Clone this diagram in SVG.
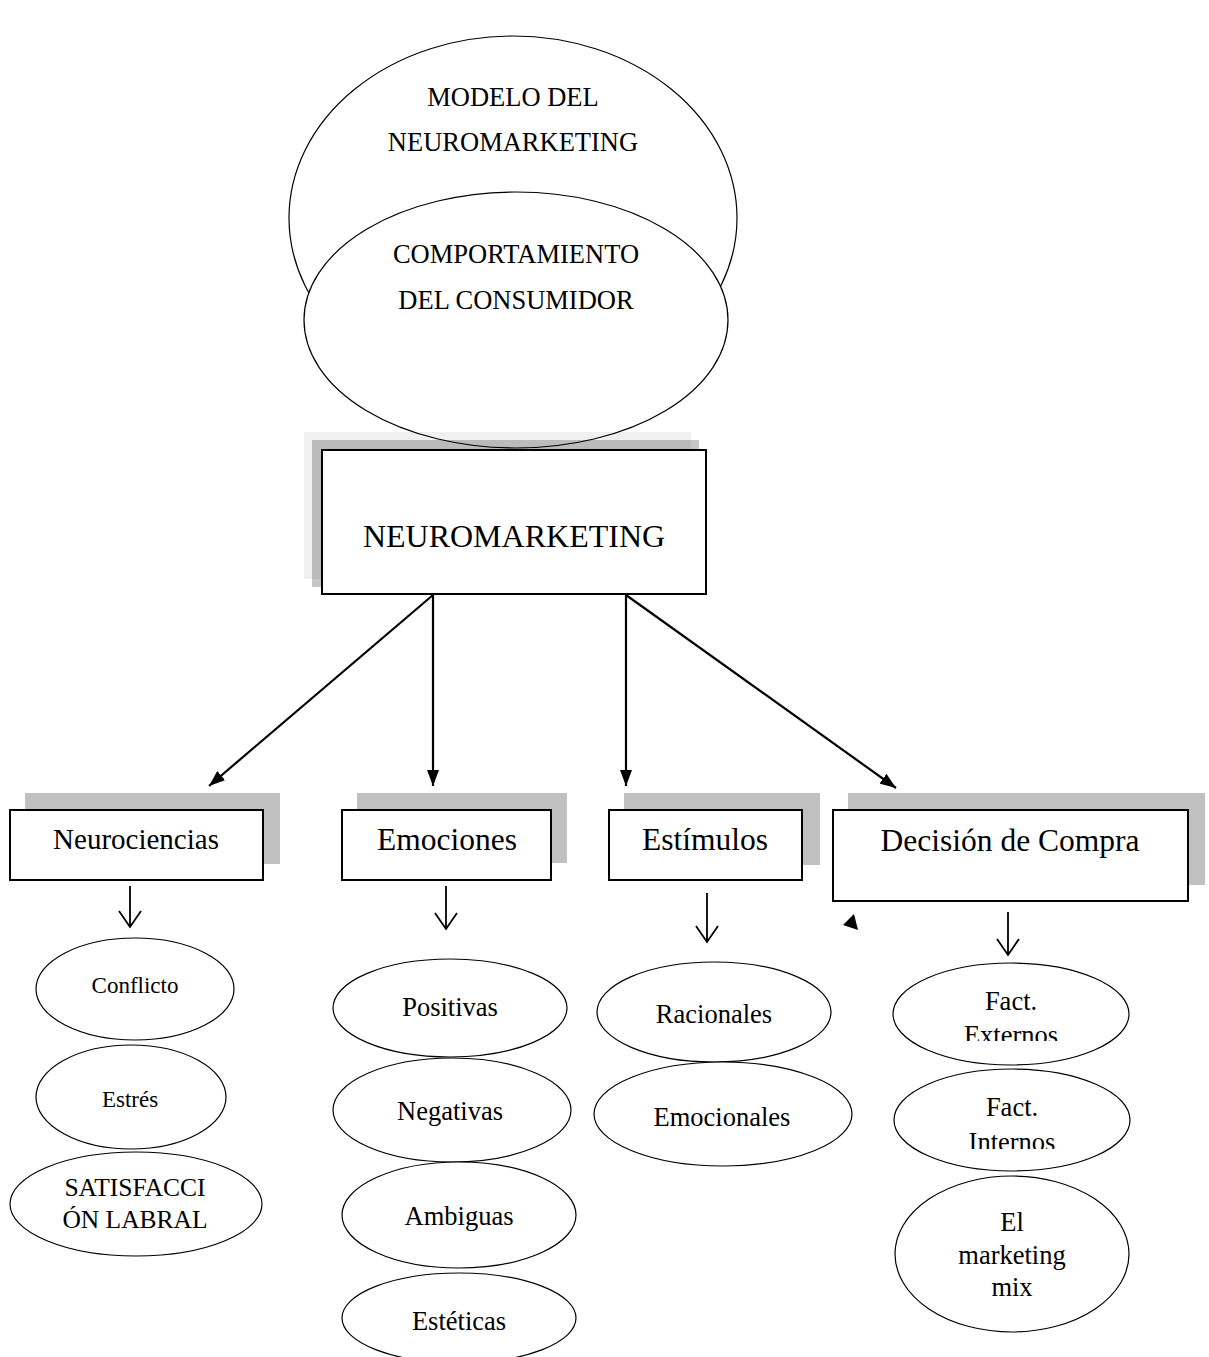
<svg xmlns="http://www.w3.org/2000/svg" width="1209" height="1357" viewBox="0 0 1209 1357">
  <style>
    text { font-family: "Liberation Serif", "Times New Roman", serif; fill: #000; text-anchor: middle; }
    .oval { fill: #fff; stroke: #000; stroke-width: 1.2; }
    .box { fill: #fff; stroke: #000; stroke-width: 2; }
    .shadow { fill: #c0c0c0; }
    .main { stroke: #000; stroke-width: 2.2; fill: none; }
    .thin { stroke: #000; stroke-width: 1.8; fill: none; }
    .t32 { font-size: 32px; }
    .t31 { font-size: 31.5px; }
    .t29 { font-size: 29px; }
    .t26 { font-size: 26.5px; }
    .t25 { font-size: 25.5px; }
    .t23 { font-size: 23px; }
  </style>
  <defs>
    <marker id="head" viewBox="0 0 16 12" refX="16" refY="6" markerWidth="16" markerHeight="12" markerUnits="userSpaceOnUse" orient="auto">
      <path d="M0,0 L16,6 L0,12 Z" fill="#000"/>
    </marker>
    <clipPath id="cutExt"><rect x="880" y="960" width="260" height="81"/></clipPath>
    <clipPath id="cutInt"><rect x="880" y="1065" width="260" height="84"/></clipPath>
  </defs>

  <rect width="1209" height="1357" fill="#fff"/>

  <!-- outer circle: model -->
  <g id="modelo">
    <ellipse class="oval" cx="513" cy="218" rx="224" ry="182" stroke-width="1.5"/>
    <text class="t26" x="513" y="106">MODELO DEL</text>
    <text class="t26" x="513" y="151">NEUROMARKETING</text>
  </g>

  <!-- inner ellipse: consumer behaviour -->
  <g id="comportamiento">
    <ellipse class="oval" cx="516" cy="320" rx="212" ry="128" stroke-width="1.5"/>
    <text class="t26" x="516" y="263">COMPORTAMIENTO</text>
    <text class="t26" x="516" y="309">DEL CONSUMIDOR</text>
  </g>

  <!-- central box with layered shadow -->
  <g id="neuromarketing">
    <rect x="304" y="432" width="387" height="147" fill="#000" fill-opacity="0.06"/>
    <rect x="312" y="440" width="387" height="147" fill="#000" fill-opacity="0.22"/>
    <rect class="box" x="322" y="450" width="384" height="144"/>
    <text class="t32" x="514" y="547">NEUROMARKETING</text>
  </g>

  <!-- second level boxes -->
  <g id="neurociencias">
    <rect class="shadow" x="25" y="793" width="255" height="71"/>
    <rect class="box" x="10" y="810" width="253" height="70"/>
    <text class="t29" x="136" y="849">Neurociencias</text>
  </g>
  <g id="emociones">
    <rect class="shadow" x="357" y="793" width="210" height="70"/>
    <rect class="box" x="342" y="810" width="209" height="70"/>
    <text class="t31" x="447" y="850">Emociones</text>
  </g>
  <g id="estimulos">
    <rect class="shadow" x="624" y="793" width="196" height="72"/>
    <rect class="box" x="609" y="810" width="193" height="70"/>
    <text class="t31" x="705" y="850">Estímulos</text>
  </g>
  <g id="decision">
    <rect class="shadow" x="848" y="793" width="357" height="92"/>
    <rect class="box" x="833" y="810" width="355" height="91"/>
    <text class="t31" x="1010" y="851">Decisión de Compra</text>
  </g>

  <!-- leaves: Neurociencias -->
  <g id="conflicto">
    <ellipse class="oval" cx="135" cy="989" rx="99" ry="51"/>
    <text class="t23" x="135" y="993">Conflicto</text>
  </g>
  <g id="estres">
    <ellipse class="oval" cx="131" cy="1097" rx="95" ry="52"/>
    <text class="t23" x="130" y="1107">Estrés</text>
  </g>
  <g id="satisfaccion">
    <ellipse class="oval" cx="136" cy="1204" rx="126" ry="52"/>
    <text class="t25" x="135" y="1196">SATISFACCI</text>
    <text class="t25" x="135" y="1228">ÓN LABRAL</text>
  </g>

  <!-- leaves: Emociones -->
  <g id="positivas">
    <ellipse class="oval" cx="450" cy="1008" rx="117" ry="49"/>
    <text class="t26" x="450" y="1016">Positivas</text>
  </g>
  <g id="negativas">
    <ellipse class="oval" cx="452" cy="1110" rx="119" ry="52"/>
    <text class="t26" x="450" y="1120">Negativas</text>
  </g>
  <g id="ambiguas">
    <ellipse class="oval" cx="459" cy="1215" rx="117" ry="53"/>
    <text class="t26" x="459" y="1225">Ambiguas</text>
  </g>
  <g id="esteticas">
    <ellipse class="oval" cx="459" cy="1318" rx="117" ry="45"/>
    <text class="t26" x="459" y="1330">Estéticas</text>
  </g>

  <!-- leaves: Estímulos -->
  <g id="racionales">
    <ellipse class="oval" cx="714" cy="1012" rx="117" ry="50"/>
    <text class="t26" x="714" y="1023">Racionales</text>
  </g>
  <g id="emocionales">
    <ellipse class="oval" cx="723" cy="1114" rx="129" ry="52"/>
    <text class="t26" x="722" y="1126">Emocionales</text>
  </g>

  <!-- leaves: Decisión de Compra -->
  <g id="externos">
    <ellipse class="oval" cx="1011" cy="1014" rx="118" ry="51"/>
    <g clip-path="url(#cutExt)">
      <text class="t26" x="1011" y="1010">Fact.</text>
      <text class="t26" x="1011" y="1044">Externos</text>
    </g>
  </g>
  <g id="internos">
    <ellipse class="oval" cx="1012" cy="1120" rx="118" ry="51"/>
    <g clip-path="url(#cutInt)">
      <text class="t26" x="1012" y="1116">Fact.</text>
      <text class="t26" x="1012" y="1151">Internos</text>
    </g>
  </g>
  <g id="marketing-mix">
    <ellipse class="oval" cx="1012" cy="1254" rx="117" ry="78"/>
    <text class="t26" x="1012" y="1231">El</text>
    <text class="t26" x="1012" y="1264">marketing</text>
    <text class="t26" x="1012" y="1296">mix</text>
  </g>

  <!-- connectors -->
  <g id="connectors">
    <line class="main" x1="433" y1="595" x2="209" y2="786" marker-end="url(#head)"/>
    <line class="main" x1="433" y1="595" x2="433" y2="786" marker-end="url(#head)"/>
    <line class="main" x1="626" y1="595" x2="626" y2="786" marker-end="url(#head)"/>
    <line class="main" x1="626" y1="595" x2="896" y2="788" marker-end="url(#head)"/>

    <path class="thin" d="M130,886 V927 M119,911 L130,927 L141,911"/>
    <path class="thin" d="M446,886 V929 M435,913 L446,929 L457,913"/>
    <path class="thin" d="M707,893 V942 M696,926 L707,942 L718,926"/>
    <path class="thin" d="M1008,912 V955 M997,939 L1008,955 L1019,939"/>

    <polygon points="843,925 854,914 858,930" fill="#000"/>
  </g>
</svg>
